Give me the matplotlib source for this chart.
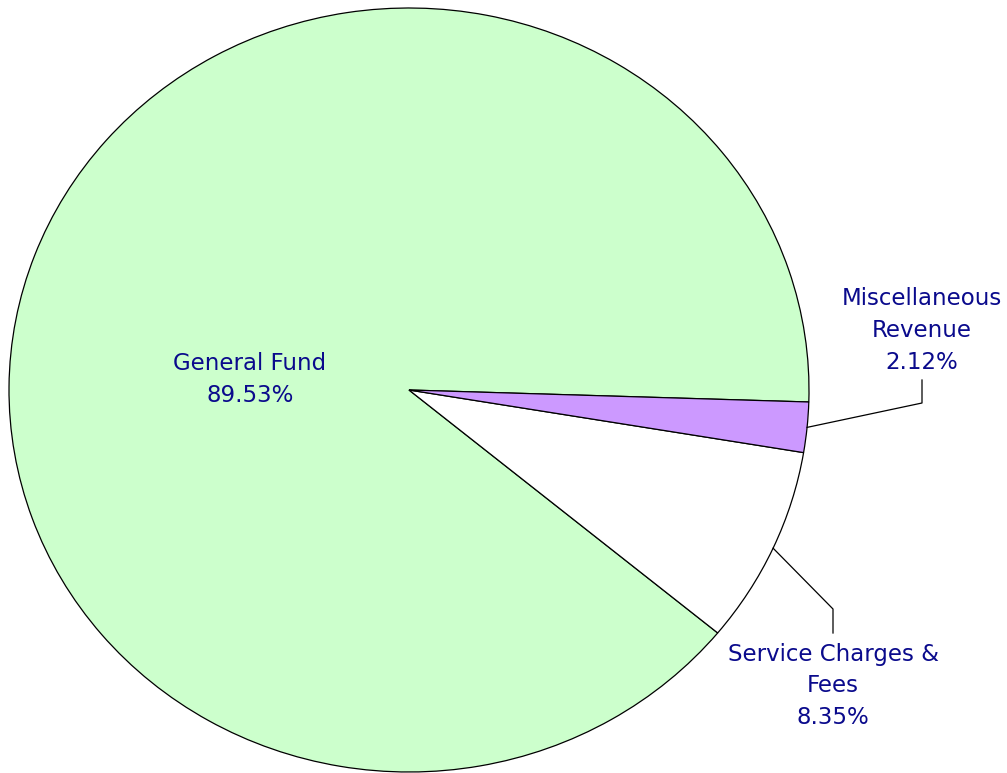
import matplotlib.pyplot as plt
import numpy as np

labels = ['General Fund', 'Service Charges &\nFees', 'Miscellaneous\nRevenue']
shares = [89.53, 8.35, 2.12]
colors = ['#CCFFCC', '#FFFFFF', '#CC99FF']
txt_color = '#0A0A8C'

# pixel geometry of the (slightly elliptical) pie
W, H = 1007, 773
cx, cy = 409, 390
rx, ry = 400, 382


def px(x, y):
    # pixel position -> data coords where the pie is a unit circle
    return (x - cx) / rx, (cy - y) / ry


fig = plt.figure(figsize=(W / 100, H / 100), dpi=100)
ax = fig.add_axes([0, 0, 1, 1])

wedges, _ = ax.pie(shares, colors=colors, startangle=-1.8, counterclock=True,
                   radius=1, center=(0, 0), frame=True,
                   wedgeprops=dict(edgecolor='black', linewidth=0.9))
ax.set_aspect('auto')
ax.set_xlim(-cx / rx, (W - cx) / rx)
ax.set_ylim(-(H - cy) / ry, cy / ry)
ax.axis('off')

font = dict(fontsize=16.5, color=txt_color, ha='center', va='center',
            linespacing=1.5, family='DejaVu Sans')

# General Fund label inside
x, y = px(250, 379)
ax.text(x, y, '%s\n%.2f%%' % (labels[0], shares[0]), **font)

# outside labels with leader lines: (corner px, end px, label centre px)
outside = {
    1: ((833, 609), (833, 633), (833, 686)),
    2: ((922, 403), (922, 380), (922, 330)),
}
for i, (corner, end, lab) in outside.items():
    w = wedges[i]
    mid = np.deg2rad((w.theta1 + w.theta2) / 2)
    sx, sy = np.cos(mid), np.sin(mid)
    c = px(*corner)
    e = px(*end)
    ax.plot([sx, c[0], e[0]], [sy, c[1], e[1]], color='black', lw=0.9)
    x, y = px(*lab)
    ax.text(x, y, '%s\n%.2f%%' % (labels[i], shares[i]), **font)

fig.savefig('out.png', dpi=100)
